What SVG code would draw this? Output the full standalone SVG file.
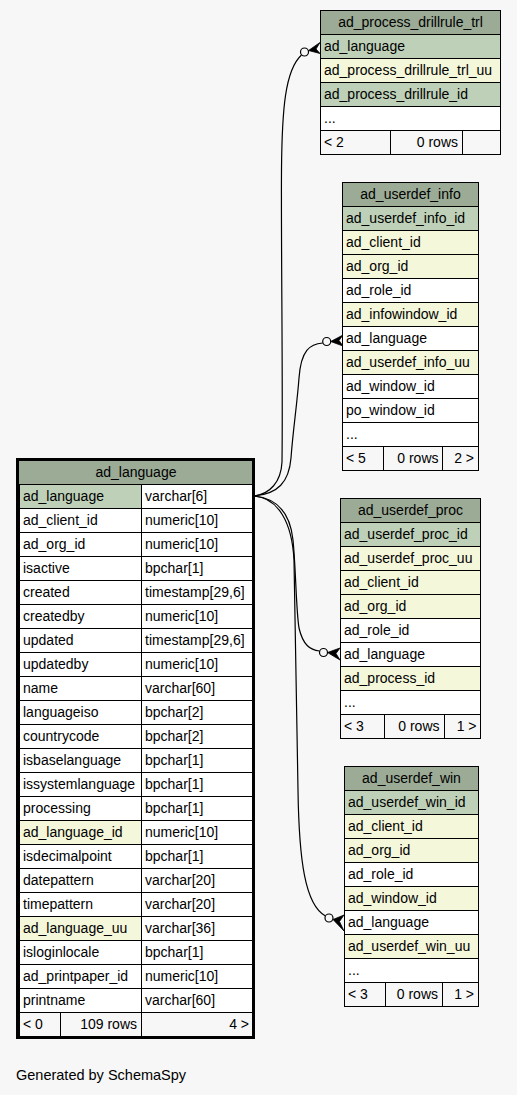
<svg xmlns="http://www.w3.org/2000/svg" width="517" height="1095" viewBox="0 0 517 1095">
<style>
text{font-family:"Liberation Sans",Arial,sans-serif;font-size:14px;fill:#000}
.m{text-anchor:middle}
.e{text-anchor:end}
rect{stroke:#000;stroke-width:1}
.hd{fill:#9bab96}
.pk{fill:#bed1b8}
.ix{fill:#f4f7da}
.pl{fill:#ffffff}
.ft{fill:#f7f7f7}
.edge{fill:none;stroke:#000;stroke-width:1.2}
.dot{fill:#f7f7f7;stroke:#000;stroke-width:1.2}
.crow{fill:#000;stroke:#000;stroke-width:0.8}
</style>
<rect x="0" y="0" width="517" height="1095" style="fill:#f7f7f7;stroke:none"/>

<g id="connectors">
<path class="edge" d="M254,496 C270,494 281,482 282,462 C283,380 281,250 281.5,170 C282,110 285,70 301.5,55"/>
<circle class="dot" cx="304.5" cy="52" r="4"/>
<polygon class="crow" points="320,42.5 308.5,50.5 320,53.5 316,49"/>
<path class="edge" d="M254,496 C278,494 289,482 291,458 C293,430 297,405 299,378 C301,350 310,344 322.8,343"/>
<circle class="dot" cx="326.7" cy="341.5" r="4"/>
<polygon class="crow" points="343,335 330.7,341.5 343,346 339,340.5"/>
<path class="edge" d="M254,496 C276,498 290,512 293,540 C296,570 296,610 299,628 C303,645 310,650 319.5,651"/>
<circle class="dot" cx="323.5" cy="652.5" r="4"/>
<polygon class="crow" points="340,648 327.5,652.5 340,660 336,653.5"/>
<path class="edge" d="M254,496 C278,498 292,522 294,560 C296,640 297,720 298,790 C299,860 305,905 325.5,916"/>
<circle class="dot" cx="329" cy="918" r="4"/>
<polygon class="crow" points="344,915 333,919.5 344,931 339.5,921.5"/>
</g>

<g id="ad_language">
<rect class="hd" x="19" y="460" width="234" height="24.5" style="stroke:none"/>
<text class="m" x="136" y="477">ad_language</text>
<rect class="pk" x="19.5" y="484.5" width="122" height="24"/><rect class="pl" x="141.5" y="484.5" width="111" height="24"/>
<text x="23" y="501">ad_language</text><text x="145" y="501">varchar[6]</text>
<rect class="pl" x="19.5" y="508.5" width="122" height="24"/><rect class="pl" x="141.5" y="508.5" width="111" height="24"/>
<text x="23" y="525">ad_client_id</text><text x="145" y="525">numeric[10]</text>
<rect class="pl" x="19.5" y="532.5" width="122" height="24"/><rect class="pl" x="141.5" y="532.5" width="111" height="24"/>
<text x="23" y="549">ad_org_id</text><text x="145" y="549">numeric[10]</text>
<rect class="pl" x="19.5" y="556.5" width="122" height="24"/><rect class="pl" x="141.5" y="556.5" width="111" height="24"/>
<text x="23" y="573">isactive</text><text x="145" y="573">bpchar[1]</text>
<rect class="pl" x="19.5" y="580.5" width="122" height="24"/><rect class="pl" x="141.5" y="580.5" width="111" height="24"/>
<text x="23" y="597">created</text><text x="145" y="597">timestamp[29,6]</text>
<rect class="pl" x="19.5" y="604.5" width="122" height="24"/><rect class="pl" x="141.5" y="604.5" width="111" height="24"/>
<text x="23" y="621">createdby</text><text x="145" y="621">numeric[10]</text>
<rect class="pl" x="19.5" y="628.5" width="122" height="24"/><rect class="pl" x="141.5" y="628.5" width="111" height="24"/>
<text x="23" y="645">updated</text><text x="145" y="645">timestamp[29,6]</text>
<rect class="pl" x="19.5" y="652.5" width="122" height="24"/><rect class="pl" x="141.5" y="652.5" width="111" height="24"/>
<text x="23" y="669">updatedby</text><text x="145" y="669">numeric[10]</text>
<rect class="pl" x="19.5" y="676.5" width="122" height="24"/><rect class="pl" x="141.5" y="676.5" width="111" height="24"/>
<text x="23" y="693">name</text><text x="145" y="693">varchar[60]</text>
<rect class="pl" x="19.5" y="700.5" width="122" height="24"/><rect class="pl" x="141.5" y="700.5" width="111" height="24"/>
<text x="23" y="717">languageiso</text><text x="145" y="717">bpchar[2]</text>
<rect class="pl" x="19.5" y="724.5" width="122" height="24"/><rect class="pl" x="141.5" y="724.5" width="111" height="24"/>
<text x="23" y="741">countrycode</text><text x="145" y="741">bpchar[2]</text>
<rect class="pl" x="19.5" y="748.5" width="122" height="24"/><rect class="pl" x="141.5" y="748.5" width="111" height="24"/>
<text x="23" y="765">isbaselanguage</text><text x="145" y="765">bpchar[1]</text>
<rect class="pl" x="19.5" y="772.5" width="122" height="24"/><rect class="pl" x="141.5" y="772.5" width="111" height="24"/>
<text x="23" y="789">issystemlanguage</text><text x="145" y="789">bpchar[1]</text>
<rect class="pl" x="19.5" y="796.5" width="122" height="24"/><rect class="pl" x="141.5" y="796.5" width="111" height="24"/>
<text x="23" y="813">processing</text><text x="145" y="813">bpchar[1]</text>
<rect class="ix" x="19.5" y="820.5" width="122" height="24"/><rect class="pl" x="141.5" y="820.5" width="111" height="24"/>
<text x="23" y="837">ad_language_id</text><text x="145" y="837">numeric[10]</text>
<rect class="pl" x="19.5" y="844.5" width="122" height="24"/><rect class="pl" x="141.5" y="844.5" width="111" height="24"/>
<text x="23" y="861">isdecimalpoint</text><text x="145" y="861">bpchar[1]</text>
<rect class="pl" x="19.5" y="868.5" width="122" height="24"/><rect class="pl" x="141.5" y="868.5" width="111" height="24"/>
<text x="23" y="885">datepattern</text><text x="145" y="885">varchar[20]</text>
<rect class="pl" x="19.5" y="892.5" width="122" height="24"/><rect class="pl" x="141.5" y="892.5" width="111" height="24"/>
<text x="23" y="909">timepattern</text><text x="145" y="909">varchar[20]</text>
<rect class="ix" x="19.5" y="916.5" width="122" height="24"/><rect class="pl" x="141.5" y="916.5" width="111" height="24"/>
<text x="23" y="933">ad_language_uu</text><text x="145" y="933">varchar[36]</text>
<rect class="pl" x="19.5" y="940.5" width="122" height="24"/><rect class="pl" x="141.5" y="940.5" width="111" height="24"/>
<text x="23" y="957">isloginlocale</text><text x="145" y="957">bpchar[1]</text>
<rect class="pl" x="19.5" y="964.5" width="122" height="24"/><rect class="pl" x="141.5" y="964.5" width="111" height="24"/>
<text x="23" y="981">ad_printpaper_id</text><text x="145" y="981">numeric[10]</text>
<rect class="pl" x="19.5" y="988.5" width="122" height="24"/><rect class="pl" x="141.5" y="988.5" width="111" height="24"/>
<text x="23" y="1005">printname</text><text x="145" y="1005">varchar[60]</text>
<rect class="ft" x="19.5" y="1012.5" width="41" height="24"/><rect class="ft" x="60.5" y="1012.5" width="81" height="24"/><rect class="ft" x="141.5" y="1012.5" width="111" height="24"/>
<text x="23" y="1029">&lt; 0</text><text class="e" x="137" y="1029">109 rows</text><text class="e" x="249" y="1029">4 &gt;</text>
<rect x="17.5" y="459.5" width="236" height="578" style="fill:none;stroke-width:3"/>
</g>

<g id="ad_process_drillrule_trl">
<rect class="hd" x="320.5" y="10.5" width="180" height="24"/>
<text class="m" x="410.5" y="27">ad_process_drillrule_trl</text>
<rect class="pk" x="320.5" y="34.5" width="180" height="24"/><text x="324" y="51">ad_language</text>
<rect class="ix" x="320.5" y="58.5" width="180" height="24"/><text x="324" y="75">ad_process_drillrule_trl_uu</text>
<rect class="pk" x="320.5" y="82.5" width="180" height="24"/><text x="324" y="99">ad_process_drillrule_id</text>
<rect class="pl" x="320.5" y="106.5" width="180" height="24"/><text x="324" y="123">...</text>
<rect class="ft" x="320.5" y="130.5" width="70" height="24"/><rect class="ft" x="390.5" y="130.5" width="72" height="24"/><rect class="ft" x="462.5" y="130.5" width="38" height="24"/>
<text x="324" y="147">&lt; 2</text><text class="e" x="458" y="147">0 rows</text>
</g>

<g id="ad_userdef_info">
<rect class="hd" x="342.5" y="182.5" width="136" height="24"/>
<text class="m" x="410.5" y="199">ad_userdef_info</text>
<rect class="pk" x="342.5" y="206.5" width="136" height="24"/><text x="346" y="223">ad_userdef_info_id</text>
<rect class="ix" x="342.5" y="230.5" width="136" height="24"/><text x="346" y="247">ad_client_id</text>
<rect class="ix" x="342.5" y="254.5" width="136" height="24"/><text x="346" y="271">ad_org_id</text>
<rect class="pl" x="342.5" y="278.5" width="136" height="24"/><text x="346" y="295">ad_role_id</text>
<rect class="ix" x="342.5" y="302.5" width="136" height="24"/><text x="346" y="319">ad_infowindow_id</text>
<rect class="pl" x="342.5" y="326.5" width="136" height="24"/><text x="346" y="343">ad_language</text>
<rect class="ix" x="342.5" y="350.5" width="136" height="24"/><text x="346" y="367">ad_userdef_info_uu</text>
<rect class="pl" x="342.5" y="374.5" width="136" height="24"/><text x="346" y="391">ad_window_id</text>
<rect class="pl" x="342.5" y="398.5" width="136" height="24"/><text x="346" y="415">po_window_id</text>
<rect class="pl" x="342.5" y="422.5" width="136" height="24"/><text x="346" y="439">...</text>
<rect class="ft" x="342.5" y="446.5" width="41" height="24"/><rect class="ft" x="383.5" y="446.5" width="59" height="24"/><rect class="ft" x="442.5" y="446.5" width="36" height="24"/>
<text x="346" y="463">&lt; 5</text><text class="e" x="438.5" y="463">0 rows</text><text class="e" x="474" y="463">2 &gt;</text>
</g>

<g id="ad_userdef_proc">
<rect class="hd" x="340.5" y="498.5" width="140" height="24"/>
<text class="m" x="410.5" y="515">ad_userdef_proc</text>
<rect class="pk" x="340.5" y="522.5" width="140" height="24"/><text x="344" y="539">ad_userdef_proc_id</text>
<rect class="ix" x="340.5" y="546.5" width="140" height="24"/><text x="344" y="563">ad_userdef_proc_uu</text>
<rect class="ix" x="340.5" y="570.5" width="140" height="24"/><text x="344" y="587">ad_client_id</text>
<rect class="ix" x="340.5" y="594.5" width="140" height="24"/><text x="344" y="611">ad_org_id</text>
<rect class="pl" x="340.5" y="618.5" width="140" height="24"/><text x="344" y="635">ad_role_id</text>
<rect class="pl" x="340.5" y="642.5" width="140" height="24"/><text x="344" y="659">ad_language</text>
<rect class="ix" x="340.5" y="666.5" width="140" height="24"/><text x="344" y="683">ad_process_id</text>
<rect class="pl" x="340.5" y="690.5" width="140" height="24"/><text x="344" y="707">...</text>
<rect class="ft" x="340.5" y="714.5" width="44" height="24"/><rect class="ft" x="384.5" y="714.5" width="60" height="24"/><rect class="ft" x="444.5" y="714.5" width="36" height="24"/>
<text x="344" y="731">&lt; 3</text><text class="e" x="439.5" y="731">0 rows</text><text class="e" x="476.5" y="731">1 &gt;</text>
</g>

<g id="ad_userdef_win">
<rect class="hd" x="344.5" y="766.5" width="134" height="24"/>
<text class="m" x="411.5" y="783">ad_userdef_win</text>
<rect class="pk" x="344.5" y="790.5" width="134" height="24"/><text x="348" y="807">ad_userdef_win_id</text>
<rect class="ix" x="344.5" y="814.5" width="134" height="24"/><text x="348" y="831">ad_client_id</text>
<rect class="ix" x="344.5" y="838.5" width="134" height="24"/><text x="348" y="855">ad_org_id</text>
<rect class="pl" x="344.5" y="862.5" width="134" height="24"/><text x="348" y="879">ad_role_id</text>
<rect class="ix" x="344.5" y="886.5" width="134" height="24"/><text x="348" y="903">ad_window_id</text>
<rect class="pl" x="344.5" y="910.5" width="134" height="24"/><text x="348" y="927">ad_language</text>
<rect class="ix" x="344.5" y="934.5" width="134" height="24"/><text x="348" y="951">ad_userdef_win_uu</text>
<rect class="pl" x="344.5" y="958.5" width="134" height="24"/><text x="348" y="975">...</text>
<rect class="ft" x="344.5" y="982.5" width="41" height="24"/><rect class="ft" x="385.5" y="982.5" width="57" height="24"/><rect class="ft" x="442.5" y="982.5" width="36" height="24"/>
<text x="348" y="999">&lt; 3</text><text class="e" x="438" y="999">0 rows</text><text class="e" x="474" y="999">1 &gt;</text>
</g>

<text x="16" y="1080" style="font-size:14.5px">Generated by SchemaSpy</text>
</svg>
